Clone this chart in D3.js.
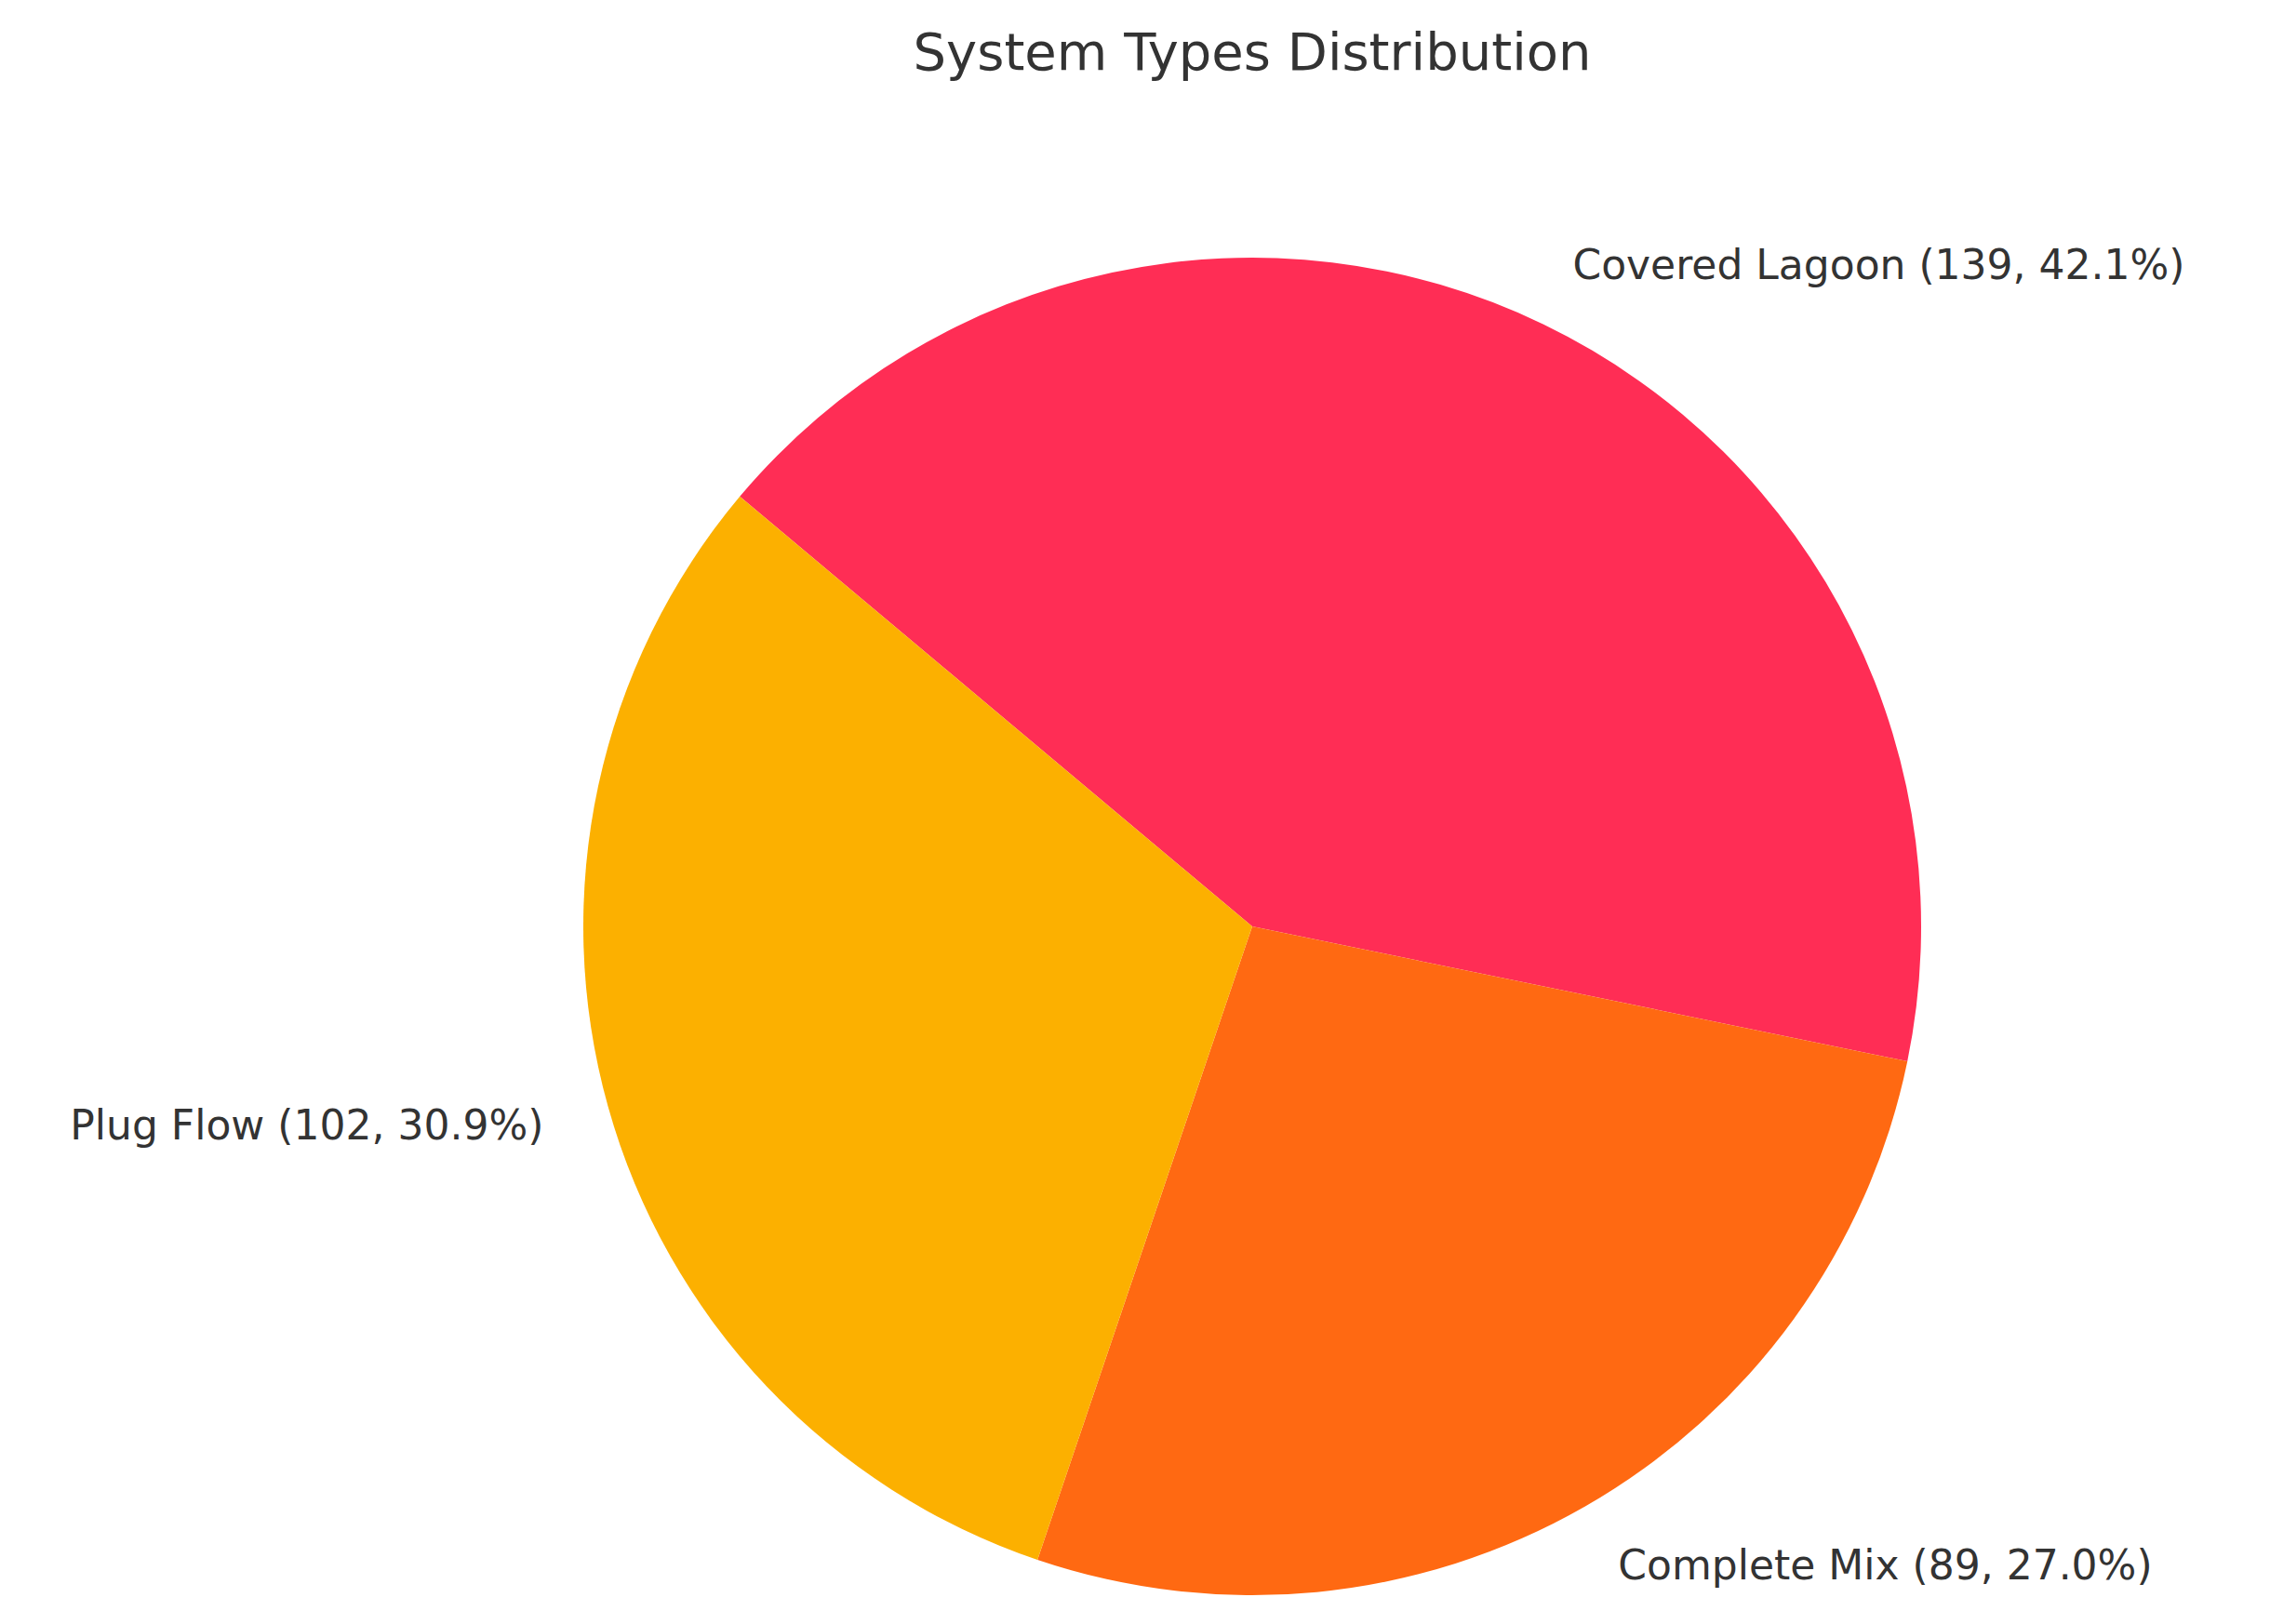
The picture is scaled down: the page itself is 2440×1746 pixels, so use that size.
<!DOCTYPE html>
<html><head><meta charset="utf-8">
<script src="https://cdn.jsdelivr.net/npm/d3@7"></script>
<style>body{margin:0;background:#fff}</style></head>
<body><svg id="c" width="2440" height="1746"></svg>
<script>
const categories = ["Covered Lagoon", "Complete Mix", "Plug Flow"];
const values = [139, 89, 102];
const colors = ["#FF2D55", "#FF6912", "#FCB000"];
const title = "System Types Distribution";

const svg = d3.select("#c");
const cx = 1346, cy = 996, r = 719;
const total = d3.sum(values);
const data = categories.map((c, i) => ({c, v: values[i], col: colors[i]}));
const pie = d3.pie().value(d => d.v).sort(null)
  .startAngle(-50 * Math.PI / 180).endAngle(310 * Math.PI / 180);
const arcs = pie(data);
const arc = d3.arc().innerRadius(0).outerRadius(r);
const g = svg.append("g").attr("transform", `translate(${cx},${cy})`);
g.selectAll("path").data(arcs).join("path").attr("d", arc).attr("fill", d => d.data.col);
g.selectAll("text").data(arcs).join("text")
  .each(function(d) {
    const a = (d.startAngle + d.endAngle) / 2;
    const x = Math.sin(a) * r * 1.1, y = -Math.cos(a) * r * 1.1;
    d3.select(this).attr("x", x).attr("y", y)
      .attr("text-anchor", x > 0 ? "start" : "end")
      .attr("dominant-baseline", "central");
  })
  .attr("font-family", "DejaVu Sans").attr("font-size", 44).attr("fill", "#333")
  .text(d => `${d.data.c} (${d.data.v}, ${(d.data.v / total * 100).toFixed(1)}%)`);
svg.append("text").attr("x", cx).attr("y", 55).attr("text-anchor", "middle")
  .attr("dominant-baseline", "central")
  .attr("font-family", "DejaVu Sans").attr("font-size", 56).attr("fill", "#333").text(title);
</script></body></html>
